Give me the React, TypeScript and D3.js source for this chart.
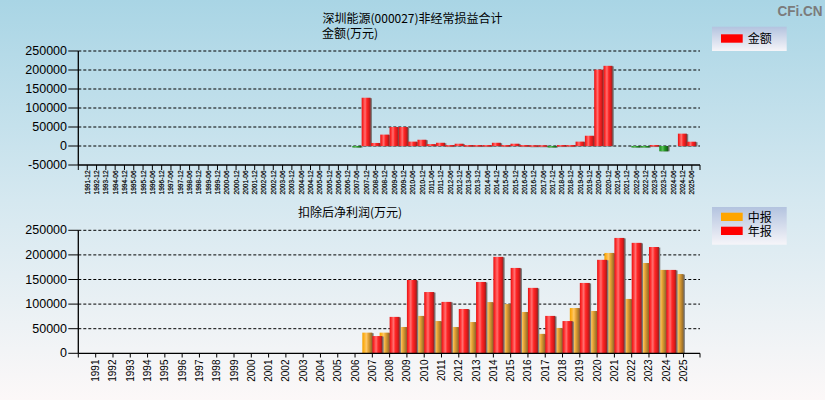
import React from "react";
import * as d3 from "d3";

const topLabels = [
  "1991-12","1992-12","1993-12","1994-06","1994-12","1995-06","1995-12","1996-06","1996-12",
  "1997-06","1997-12","1998-06","1998-12","1999-06","1999-12","2000-06","2000-12","2001-06",
  "2001-12","2002-06","2002-12","2003-06","2003-12","2004-06","2004-12","2005-06","2005-12",
  "2006-06","2006-12","2007-06","2007-12","2008-06","2008-12","2009-06","2009-12","2010-06",
  "2010-12","2011-06","2011-12","2012-06","2012-12","2013-06","2013-12","2014-06","2014-12",
  "2015-06","2015-12","2016-06","2016-12","2017-06","2017-12","2018-06","2018-12","2019-06",
  "2019-12","2020-06","2020-12","2021-06","2021-12","2022-06","2022-12","2023-06","2023-12",
  "2024-06","2024-12","2025-06",
];

const topValues = [
  0,0,0,0,0,0,0,0,0,
  0,0,0,0,0,0,0,0,0,
  0,0,0,0,0,0,0,0,0,
  0,0,-1000,127000,8000,30000,50000,50000,11500,
  16500,5000,8500,2500,6000,2500,2500,2500,8500,
  2500,6000,2500,2000,2000,-1500,2500,2500,11500,
  27000,201000,211000,0,0,-1000,-1500,2500,-14000,
  0,32500,11300,
];

const years = [
  "1991","1992","1993","1994","1995","1996","1997","1998","1999","2000","2001","2002",
  "2003","2004","2005","2006","2007","2008","2009","2010","2011","2012","2013","2014",
  "2015","2016","2017","2018","2019","2020","2021","2022","2023","2024","2025",
];

const interimValues = [
  0,0,0,0,0,0,0,0,0,0,0,0,
  0,0,0,0,42000,42000,53500,76000,65500,53500,63500,104000,
  100000,84000,39500,51500,92000,86000,204000,110500,183500,169500,161000,
];

const annualValues = [
  0,0,0,0,0,0,0,0,0,0,0,0,
  0,0,0,0,35000,74000,149000,124500,104500,90000,145000,196000,
  173500,133000,76000,65500,143000,190000,234500,224500,216000,169500,0,
];

const topTicks = [-50000, 0, 50000, 100000, 150000, 200000, 250000];
const botTicks = [0, 50000, 100000, 150000, 200000, 250000];

const FONT = "'Liberation Sans', Arial, sans-serif";
const CJK = "'Noto Sans CJK SC', sans-serif";

export default function App() {
  const axisLeft = 78.3;
  const axisRight = 700;

  const yTop = d3.scaleLinear().domain([-50000, 250000]).range([165, 51]);
  const xTop = d3.scaleBand<string>().domain(topLabels).range([82.6, 696.5]).padding(0);
  const tbw = xTop.bandwidth();

  const yBot = d3.scaleLinear().domain([0, 250000]).range([353.3, 230.3]);
  const xBot = d3.scaleBand<string>().domain(years).range([87.05, 692.2]).padding(0);
  const bbw = xBot.bandwidth();
  const barW = 10;

  const shadow = 1.3;

  return (
    <svg
      width={825}
      height={400}
      style={{ position: "absolute", left: 0, top: 0, display: "block" }}
      xmlns="http://www.w3.org/2000/svg"
    >
      <defs>
        <linearGradient id="bg" x1="0" y1="0" x2="0" y2="1">
          <stop offset="0" stopColor="#a9d5e5" />
          <stop offset="0.5" stopColor="#d5e8f0" />
          <stop offset="1" stopColor="#fcf8f8" />
        </linearGradient>
        <linearGradient id="legbg" x1="0" y1="0" x2="0" y2="1">
          <stop offset="0" stopColor="#b3c3df" />
          <stop offset="1" stopColor="#f6f5f9" />
        </linearGradient>
        <linearGradient id="gRed" x1="0" y1="0" x2="1" y2="0">
          <stop offset="0" stopColor="#e01414" />
          <stop offset="0.15" stopColor="#ff2a2a" />
          <stop offset="0.38" stopColor="#ff7070" />
          <stop offset="0.58" stopColor="#ff2626" />
          <stop offset="0.82" stopColor="#dc1a1a" />
          <stop offset="1" stopColor="#8c2424" />
        </linearGradient>
        <linearGradient id="gGreen" x1="0" y1="0" x2="1" y2="0">
          <stop offset="0" stopColor="#148c14" />
          <stop offset="0.38" stopColor="#5cc05c" />
          <stop offset="0.6" stopColor="#229622" />
          <stop offset="1" stopColor="#145214" />
        </linearGradient>
        <linearGradient id="gOrange" x1="0" y1="0" x2="1" y2="0">
          <stop offset="0" stopColor="#f2a000" />
          <stop offset="0.2" stopColor="#ffb428" />
          <stop offset="0.4" stopColor="#ffc868" />
          <stop offset="0.6" stopColor="#e6a434" />
          <stop offset="1" stopColor="#8c6428" />
        </linearGradient>
      </defs>

      <rect x={0} y={0} width={825} height={400} fill="url(#bg)" />

      {/* watermark */}
      <text x={777.5} y={16} fontFamily={FONT} fontWeight="bold" fontSize={15} fill="#7b7b7b" textLength={45} lengthAdjust="spacingAndGlyphs">CFi.CN</text>

      {/* ---------- top chart ---------- */}
      <text x={322.5} y={23} fontFamily={CJK} fontSize={12} fill="#000">深圳能源(000027)非经常损益合计</text>
      <text x={322} y={37.5} fontFamily={CJK} fontSize={12} fill="#000">金额(万元)</text>

      {topTicks.map((t) => (
        <g key={"tt" + t}>
          {t !== -50000 && (
            <line x1={axisLeft} x2={axisRight} y1={yTop(t)} y2={yTop(t)} stroke="#000" strokeWidth={1} strokeDasharray="3,2" />
          )}
          <line x1={68.3} x2={axisLeft} y1={yTop(t)} y2={yTop(t)} stroke="#000" strokeWidth={1} />
          <text x={67} y={yTop(t)} fontFamily={FONT} fontSize={12.5} textAnchor="end" dominantBaseline="central" fill="#000">{t}</text>
        </g>
      ))}

      {topValues.map((v, i) => {
        if (v === 0) return null;
        const x = xTop(topLabels[i]) as number;
        const y0 = yTop(0);
        const y1 = yTop(v);
        const top = Math.min(y0, y1);
        const h = Math.max(Math.abs(y1 - y0), 1.5);
        return (
          <g key={"tb" + i}>
            <rect x={x + shadow} y={top + (v > 0 ? 0.5 : 0)} width={tbw - 0.3} height={h} fill="#7a7a7a" />
            <rect x={x} y={top} width={tbw - 0.3} height={h} fill={v > 0 ? "url(#gRed)" : "url(#gGreen)"} />
          </g>
        );
      })}

      <line x1={axisLeft} x2={axisLeft} y1={yTop(250000)} y2={yTop(-50000)} stroke="#000" strokeWidth={1.3} />
      <line x1={axisLeft} x2={axisRight} y1={yTop(-50000)} y2={yTop(-50000)} stroke="#000" strokeWidth={1.3} />
      <line x1={axisLeft} x2={axisLeft} y1={165} y2={170} stroke="#000" />
      <line x1={axisRight} x2={axisRight} y1={165} y2={170} stroke="#000" />
      {topLabels.map((l) => {
        const c = (xTop(l) as number) + tbw / 2;
        return (
          <g key={"tl" + l}>
            <line x1={c} x2={c} y1={165} y2={170} stroke="#000" />
            <text transform={`translate(${c},${170.3}) rotate(-90)`} fontFamily={FONT} fontSize={6.6} textAnchor="end" dominantBaseline="central" fill="#000" stroke="#000" strokeWidth={0.2}>{l}</text>
          </g>
        );
      })}

      {/* top legend */}
      <rect x={712} y={26.7} width={74.7} height={24.3} fill="url(#legbg)" />
      <rect x={721} y={34.3} width={21.7} height={8.4} fill="#ff0000" />
      <text x={747.7} y={43} fontFamily={CJK} fontSize={12} fill="#000">金额</text>

      {/* ---------- bottom chart ---------- */}
      <text x={298} y={217} fontFamily={CJK} fontSize={12} fill="#000">扣除后净利润(万元)</text>

      {botTicks.map((t) => (
        <g key={"bt" + t}>
          {t !== 0 && (
            <line x1={axisLeft} x2={axisRight} y1={yBot(t)} y2={yBot(t)} stroke="#000" strokeWidth={1} strokeDasharray="3,2" />
          )}
          <line x1={68.3} x2={axisLeft} y1={yBot(t)} y2={yBot(t)} stroke="#000" strokeWidth={1} />
          <text x={67} y={yBot(t)} fontFamily={FONT} fontSize={12.5} textAnchor="end" dominantBaseline="central" fill="#000">{t}</text>
        </g>
      ))}

      {interimValues.map((v, i) => {
        if (!v) return null;
        const c = (xBot(years[i]) as number) + bbw / 2;
        const y1 = yBot(v);
        const h = yBot(0) - y1;
        return (
          <g key={"bi" + i}>
            <rect x={c - barW + shadow} y={y1 + 0.5} width={barW} height={h - 0.5} fill="#7a7a7a" />
            <rect x={c - barW} y={y1} width={barW} height={h} fill="url(#gOrange)" />
          </g>
        );
      })}
      {annualValues.map((v, i) => {
        if (!v) return null;
        const c = (xBot(years[i]) as number) + bbw / 2;
        const y1 = yBot(v);
        const h = yBot(0) - y1;
        return (
          <g key={"ba" + i}>
            <rect x={c + shadow} y={y1 + 0.5} width={barW} height={h - 0.5} fill="#7a7a7a" />
            <rect x={c} y={y1} width={barW} height={h} fill="url(#gRed)" />
          </g>
        );
      })}

      <line x1={axisLeft} x2={axisLeft} y1={yBot(250000)} y2={yBot(0)} stroke="#000" strokeWidth={1.3} />
      <line x1={axisLeft} x2={axisRight} y1={yBot(0)} y2={yBot(0)} stroke="#000" strokeWidth={1.3} />
      <line x1={axisLeft} x2={axisLeft} y1={353.3} y2={357.5} stroke="#000" />
      <line x1={axisRight} x2={axisRight} y1={353.3} y2={357.5} stroke="#000" />
      {years.map((yr) => {
        const c = (xBot(yr) as number) + bbw / 2;
        return (
          <g key={"yl" + yr}>
            <line x1={c} x2={c} y1={353.3} y2={357.5} stroke="#000" />
            <text transform={`translate(${c},${359.5}) rotate(-90)`} fontFamily={FONT} fontSize={10} textAnchor="end" dominantBaseline="central" fill="#000">{yr}</text>
          </g>
        );
      })}

      {/* bottom legend */}
      <rect x={712} y={207} width={74.7} height={37.7} fill="url(#legbg)" />
      <rect x={721} y={212.7} width={21.7} height={8.3} fill="#ffa500" />
      <text x={747.7} y={222} fontFamily={CJK} fontSize={12} fill="#000">中报</text>
      <rect x={721} y={226.7} width={21.7} height={8.3} fill="#ff0000" />
      <text x={747.7} y={236} fontFamily={CJK} fontSize={12} fill="#000">年报</text>
    </svg>
  );
}
